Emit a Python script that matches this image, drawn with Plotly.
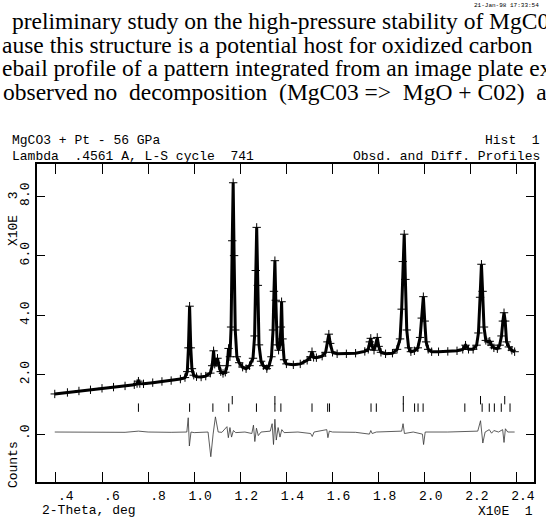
import plotly.graph_objects as go

# GSAS Rietveld plot: MgCO3 + Pt at 56 GPa (2-theta in units of 10 deg, counts in 1000s)
two_theta = [
    0.395, 0.45, 0.50, 0.55, 0.60, 0.65, 0.70, 0.74, 0.752, 0.758, 0.764, 0.78, 0.82, 0.86, 0.90,
    0.94, 0.96, 0.970, 0.975, 0.980, 0.985, 0.990, 0.998, 1.01, 1.03, 1.05, 1.07, 1.078, 1.084,
    1.089, 1.095, 1.101, 1.107, 1.115, 1.125, 1.135, 1.143, 1.149, 1.155, 1.160, 1.165, 1.169,
    1.173, 1.178, 1.185, 1.195, 1.21, 1.225, 1.24, 1.255, 1.262, 1.267, 1.271, 1.276, 1.281,
    1.29, 1.30, 1.315, 1.325, 1.335, 1.342, 1.346, 1.350, 1.354, 1.360, 1.366, 1.372, 1.376,
    1.379, 1.383, 1.390, 1.40, 1.43, 1.46, 1.49, 1.505, 1.511, 1.518, 1.53, 1.555, 1.57, 1.578,
    1.584, 1.590, 1.60, 1.62, 1.66, 1.70, 1.74, 1.755, 1.762, 1.766, 1.772, 1.780, 1.787, 1.794,
    1.800, 1.81, 1.83, 1.86, 1.88, 1.893, 1.900, 1.905, 1.911, 1.916, 1.922, 1.93, 1.94, 1.955,
    1.97, 1.98, 1.987, 1.994, 2.000, 2.006, 2.015, 2.03, 2.06, 2.10, 2.14, 2.165, 2.177, 2.19,
    2.21, 2.225, 2.233, 2.240, 2.246, 2.251, 2.257, 2.265, 2.275, 2.282, 2.29, 2.30, 2.315,
    2.325, 2.333, 2.339, 2.344, 2.349, 2.355, 2.365, 2.378, 2.39,
]
observed = [
    1.35, 1.40, 1.45, 1.49, 1.54, 1.58, 1.62, 1.66, 1.70, 1.78, 1.70, 1.69, 1.73, 1.77, 1.80,
    1.85, 1.90, 2.10, 2.90, 4.30, 2.90, 2.20, 1.98, 1.93, 1.92, 1.95, 2.05, 2.30, 2.80,
    2.35, 2.40, 2.55, 2.30, 2.10, 2.04, 2.08, 2.30, 2.88, 2.60, 3.60, 6.50, 8.45,
    6.00, 3.50, 2.60, 2.40, 2.25, 2.20, 2.30, 2.55, 3.30, 5.50, 6.95, 5.00, 3.00,
    2.45, 2.30, 2.20, 2.30, 2.60, 3.50, 4.80, 5.83, 4.50, 3.00, 2.82, 3.00, 3.60,
    4.45, 3.20, 2.50, 2.36, 2.33, 2.36, 2.48, 2.60, 2.77, 2.58, 2.57, 2.62, 2.75, 3.10,
    3.36, 3.05, 2.75, 2.70, 2.70, 2.72, 2.78, 2.85, 3.10, 3.22, 2.95, 2.82, 3.00, 3.25,
    2.95, 2.75, 2.70, 2.72, 2.85, 3.20, 4.20, 5.80, 6.72, 5.20, 3.50, 2.90, 2.77, 2.80,
    2.90, 3.25, 3.90, 4.62, 3.80, 3.10, 2.85, 2.77, 2.77, 2.78, 2.80, 2.85, 2.99, 2.85,
    2.85, 2.99, 3.40, 4.60, 5.71, 4.80, 3.60, 3.15, 3.10, 3.12, 2.99, 2.90, 2.87,
    2.99, 3.30, 3.80, 4.08, 3.80, 3.10, 2.93, 2.82, 2.77,
]
calculated = [
    1.35, 1.40, 1.45, 1.49, 1.54, 1.58, 1.62, 1.66, 1.70, 1.76, 1.70, 1.69, 1.73, 1.77, 1.80,
    1.85, 1.90, 2.08, 2.80, 4.25, 2.95, 2.20, 1.98, 1.93, 1.92, 1.95, 2.05, 2.35, 2.85,
    2.35, 2.38, 2.50, 2.28, 2.10, 2.04, 2.08, 2.28, 2.85, 2.60, 3.60, 6.40, 8.20,
    6.00, 3.50, 2.60, 2.40, 2.25, 2.20, 2.30, 2.55, 3.25, 5.45, 6.70, 5.00, 3.00,
    2.45, 2.30, 2.20, 2.30, 2.58, 3.50, 4.70, 5.75, 4.50, 3.00, 2.82, 2.95, 3.40,
    3.92, 3.15, 2.50, 2.36, 2.33, 2.36, 2.48, 2.60, 2.75, 2.58, 2.57, 2.62, 2.75, 3.10,
    3.30, 3.05, 2.75, 2.70, 2.70, 2.72, 2.78, 2.85, 3.10, 3.20, 2.95, 2.82, 3.00, 3.22,
    2.95, 2.75, 2.70, 2.72, 2.85, 3.20, 4.15, 5.70, 6.50, 5.20, 3.50, 2.90, 2.77, 2.80,
    2.90, 3.25, 3.85, 4.45, 3.80, 3.10, 2.85, 2.77, 2.77, 2.78, 2.80, 2.85, 2.97, 2.85,
    2.85, 2.99, 3.40, 4.50, 5.46, 4.80, 3.60, 3.15, 3.10, 3.10, 2.99, 2.90, 2.87,
    2.99, 3.30, 3.75, 4.00, 3.80, 3.10, 2.93, 2.82, 2.77,
]

diff_x = [
    0.395, 0.50, 0.60, 0.70, 0.758, 0.80, 0.90, 0.968, 0.974, 0.979, 0.986, 1.00, 1.06, 1.072,
    1.082, 1.092, 1.104, 1.12, 1.142, 1.148, 1.155, 1.162, 1.170, 1.180, 1.22, 1.25, 1.257,
    1.263, 1.270, 1.278, 1.29, 1.33, 1.338, 1.344, 1.350, 1.356, 1.364, 1.372, 1.380, 1.390,
    1.45, 1.505, 1.512, 1.52, 1.575, 1.580, 1.586, 1.60, 1.70, 1.76, 1.766, 1.772, 1.79, 1.90,
    1.906, 1.912, 1.95, 1.99, 1.995, 2.002, 2.10, 2.23, 2.242, 2.252, 2.262, 2.28, 2.29, 2.30,
    2.32, 2.338, 2.344, 2.350, 2.36, 2.39,
]
diff_y = [
    0.07, 0.06, 0.07, 0.06, 0.10, 0.07, 0.06, 0.07, 0.55, -0.40, 0.07, 0.05, 0.07, -0.76,
    0.00, 0.58, 0.07, 0.06, 0.25, -0.12, 0.22, -0.10, 0.12, 0.05, 0.07, 0.02, 0.30,
    -0.25, 0.20, -0.05, 0.07, 0.10, 0.35, -0.35, 0.50, -0.20, 0.22, -0.10, 0.15, 0.05,
    0.07, 0.02, -0.08, 0.07, 0.15, -0.12, 0.10, 0.07, 0.06, 0.00, 0.12, 0.02, 0.07, 0.10,
    0.35, 0.02, 0.07, 0.00, -0.35, 0.07, 0.07, 0.10, 0.45, -0.30, 0.07, 0.15, 0.03, 0.12,
    0.07, 0.15, -0.28, 0.18, 0.07, 0.07,
]

# reflection markers: MgCO3 row and Pt row
mgco3_refl = [0.758, 0.980, 1.081, 1.150, 1.270, 1.350, 1.376, 1.511, 1.579, 1.587, 1.767,
              1.790, 1.907, 1.956, 1.971, 1.993, 2.174, 2.249, 2.280, 2.302, 2.332, 2.370]
pt_refl = [1.165, 1.350, 1.907, 2.242, 2.347]

x_ticks = [0.4, 0.6, 0.8, 1.0, 1.2, 1.4, 1.6, 1.8, 2.0, 2.2, 2.4]
x_labels = ["\u00a0.4", "\u00a0.6", "\u00a0.8", "1.0", "1.2", "1.4", "1.6", "1.8", "2.0", "2.2", "2.4"]
y_ticks = [0, 2, 4, 6, 8]
y_labels = [".0", "2.0", "4.0", "6.0", "8.0"]

# justified paragraph above the figure (extra nbsp mimic the justified spacing)
paragraph = [
    "preliminary study on the high-pressure stability of MgC0",
    "ause this structure is a potential host for oxidized carbon",
    "ebail profile of a pattern integrated from an image plate ex",
    "observed no\u00a0 decomposition\u00a0 (MgC03 =>\u00a0 MgO + C02)\u00a0 a",
]

W, H = 546, 520
L, R, T, B = 37, 536, 164, 482
MONO = "Liberation Mono, Courier New, monospace"
SERIF = "Liberation Serif, Times New Roman, serif"


def xp(px):
    return (px - L) / (R - L)


def yp(py):
    return (B - py) / (B - T)


fig = go.Figure()

fig.add_trace(go.Scatter(
    x=diff_x, y=diff_y, mode="lines",
    line=dict(color="#333", width=0.8), hoverinfo="skip"))

tick_marker = dict(symbol="line-ns-open", size=6, color="black",
                   line=dict(width=1, color="black"))
fig.add_trace(go.Scatter(
    x=mgco3_refl, y=[0.89] * len(mgco3_refl), mode="markers",
    marker=tick_marker, hoverinfo="skip"))
fig.add_trace(go.Scatter(
    x=pt_refl, y=[1.14] * len(pt_refl), mode="markers",
    marker=tick_marker, hoverinfo="skip"))

fig.add_trace(go.Scatter(
    x=two_theta, y=observed, mode="lines+markers",
    line=dict(color="black", width=3),
    marker=dict(symbol="cross-thin-open", size=6, color="black",
                line=dict(width=1, color="black")),
    hoverinfo="skip"))
fig.add_trace(go.Scatter(
    x=two_theta, y=calculated, mode="lines",
    line=dict(color="black", width=1), hoverinfo="skip"))

ann = []
for i, line in enumerate(paragraph):
    ann.append(dict(text=line, x=xp([10, 0, 0, 1][i]), y=yp(21 + 23.5 * i),
                    xanchor="left", yanchor="middle",
                    font=dict(family=SERIF, size=23.5, color="black")))

ann += [
    dict(text="21-Jan-98 17:33:54", x=xp(543), y=yp(5), xanchor="right", yanchor="middle",
         font=dict(family=MONO, size=6, color="black")),
    dict(text="MgCO3 + Pt - 56 GPa", x=xp(10), y=yp(140), xanchor="left", yanchor="middle",
         font=dict(family=MONO, size=13, color="black")),
    dict(text="Lambda\u00a0\u00a0.4561 A, L-S cycle\u00a0\u00a0741", x=xp(10), y=yp(156),
         xanchor="left", yanchor="middle", font=dict(family=MONO, size=13, color="black")),
    dict(text="Hist\u00a0\u00a01", x=xp(544), y=yp(140), xanchor="right", yanchor="middle",
         font=dict(family=MONO, size=13, color="black")),
    dict(text="Obsd. and Diff. Profiles", x=xp(544), y=yp(156), xanchor="right",
         yanchor="middle", font=dict(family=MONO, size=13, color="black")),
    dict(text="X10E\u00a0\u00a03", x=xp(13), y=yp(219), textangle=-90, xanchor="center",
         yanchor="middle", font=dict(family=MONO, size=13, color="black")),
    dict(text="Counts", x=xp(13), y=yp(465), textangle=-90, xanchor="center",
         yanchor="middle", font=dict(family=MONO, size=13, color="black")),
    dict(text="2-Theta, deg", x=xp(40), y=yp(510), xanchor="left", yanchor="middle",
         font=dict(family=MONO, size=13, color="black")),
    dict(text="X10E\u00a0\u00a01", x=xp(537), y=yp(511), xanchor="right", yanchor="middle",
         font=dict(family=MONO, size=13, color="black")),
]
for a in ann:
    a.update(xref="paper", yref="paper", showarrow=False)

fig.update_layout(
    width=W, height=H,
    margin=dict(l=L, r=W - R, t=T, b=H - B),
    paper_bgcolor="white", plot_bgcolor="white",
    showlegend=False,
    annotations=ann,
    xaxis=dict(range=[0.318, 2.474], tickvals=x_ticks, ticktext=x_labels,
               ticks="inside", ticklen=10, tickwidth=1.3, tickcolor="black",
               showline=True, linecolor="black", linewidth=1.5, mirror="ticks",
               showgrid=False, zeroline=False, ticklabelshift=6, ticklabelstandoff=1,
               tickfont=dict(family=MONO, size=13, color="black")),
    yaxis=dict(range=[-1.61, 9.08], tickvals=y_ticks, ticktext=y_labels, tickangle=-90,
               ticks="inside", ticklen=8, tickwidth=1.3, tickcolor="black",
               showline=True, linecolor="black", linewidth=1.5, mirror="ticks",
               showgrid=False, zeroline=False, ticklabelstandoff=1,
               tickfont=dict(family=MONO, size=13, color="black")),
)

fig.write_html("out.html", config={"displayModeBar": False},
               post_script="document.body.style.margin='0';document.body.style.overflow='hidden';")
